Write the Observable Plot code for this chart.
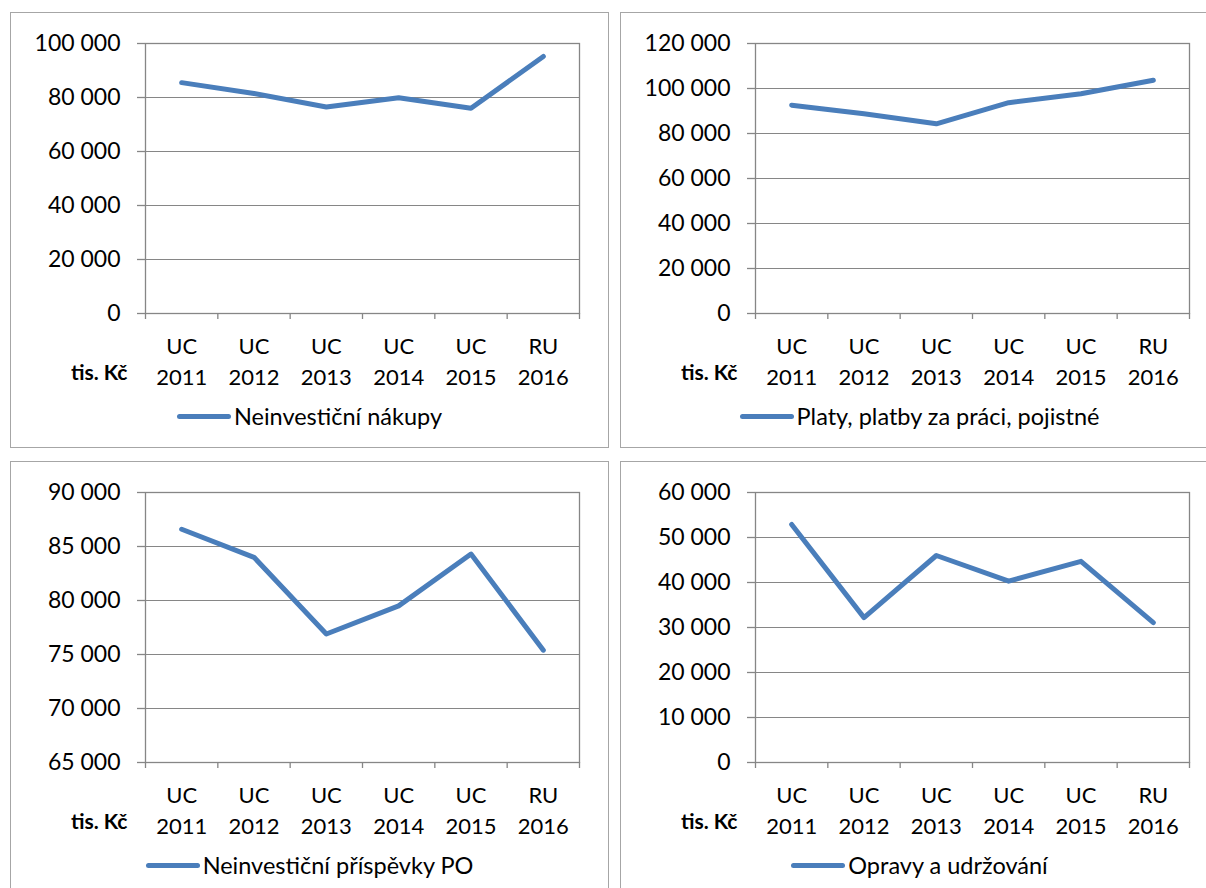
<!DOCTYPE html>
<html><head><meta charset="utf-8">
<script src="https://cdn.jsdelivr.net/npm/d3@7"></script>
<script src="https://cdn.jsdelivr.net/npm/@observablehq/plot@0.6"></script>
<style>
html,body{margin:0;padding:0;background:#fff}
body{width:1206px;height:888px;overflow:hidden;position:relative;font-family:Lato,"Open Sans",sans-serif;color:#000}
.panel{position:absolute;box-sizing:border-box;width:599px;height:436px;border:1px solid #a6a6a6;background:#fff}
.panel svg{display:block}
.legend{display:flex;justify-content:center;align-items:center;height:26px;font-size:23.5px;line-height:26px;color:#000}
.swatch{width:54px;height:5px;border-radius:3px;background:#4a7ebb;margin-right:3px}
</style></head><body>
<script>
// ---- data ----
const catTop = ["UC", "UC", "UC", "UC", "UC", "RU"];
const catYear = ["2011", "2012", "2013", "2014", "2015", "2016"];
const nakupy = [85500, 81500, 76500, 79900, 76000, 95200];
const platy = [92600, 88800, 84300, 93700, 97700, 103700];
const prispevky = [86600, 84000, 76900, 79500, 84300, 75400];
const opravy = [52900, 32200, 46000, 40300, 44700, 31100];
const seriesNames = ["Neinvestiční nákupy", "Platy, platby za práci, pojistné", "Neinvestiční příspěvky PO", "Opravy a udržování"];
const ticks1 = [0, 20000, 40000, 60000, 80000, 100000];
const ticks2 = [0, 20000, 40000, 60000, 80000, 100000, 120000];
const ticks3 = [65000, 70000, 75000, 80000, 85000, 90000];
const ticks4 = [0, 10000, 20000, 30000, 40000, 50000, 60000];
const unitLabel = "tis. Kč";

const fmt = d3.formatLocale({decimal: ",", thousands: "\u00a0", grouping: [3], currency: ["", " Kč"]}).format(",");
const lineColor = "#4a7ebb";
const gridColor = "#868686";

const panels = [
  {values: nakupy, name: seriesNames[0], ticks: ticks1, left: 10, top: 12},
  {values: platy, name: seriesNames[1], ticks: ticks2, left: 620, top: 12},
  {values: prispevky, name: seriesNames[2], ticks: ticks3, left: 10, top: 461},
  {values: opravy, name: seriesNames[3], ticks: ticks4, left: 620, top: 461}
];

for (const p of panels) {
  const rows = p.values.map((v, i) => ({i, v, top: catTop[i], year: catYear[i]}));
  const xPos = d => d.i + 0.5;
  const yDom = [p.ticks[0], p.ticks[p.ticks.length - 1]];
  const chart = Plot.plot({
    width: 597,
    height: 390,
    marginTop: 30,
    marginLeft: 134,
    marginRight: 29,
    marginBottom: 90,
    style: {fontFamily: "Lato, 'Open Sans', sans-serif", fontSize: "22px", color: "#000", background: "#fff", overflow: "visible"},
    x: {type: "linear", domain: [0, catTop.length], label: null},
    y: {type: "linear", domain: yDom, label: null},
    marks: [
      Plot.gridY(p.ticks, {stroke: gridColor, strokeOpacity: 1, strokeWidth: 1}),
      Plot.frame({stroke: gridColor, strokeWidth: 1.3}),
      Plot.axisY(p.ticks, {tickSize: 8, tickFormat: () => "", stroke: gridColor, strokeWidth: 1.3, label: null}),
      Plot.axisY(p.ticks, {tickSize: 0, tickPadding: 25, tickFormat: fmt, fill: "#000", fontSize: 23, label: null}),
      Plot.axisX(d3.range(catTop.length + 1), {tickSize: 6, tickFormat: () => "", stroke: gridColor, strokeWidth: 1.3, label: null}),
      Plot.text(rows, {x: xPos, text: "top", frameAnchor: "bottom", lineAnchor: "bottom", dy: 40, fill: "#000"}),
      Plot.text(rows, {x: xPos, text: "year", frameAnchor: "bottom", lineAnchor: "bottom", dy: 71, fill: "#000"}),
      Plot.text([unitLabel], {text: d => d, frameAnchor: "bottom-left", textAnchor: "end", lineAnchor: "bottom", dx: -18, dy: 66, fontWeight: "bold", fontSize: 21, fill: "#000"}),
      Plot.line(rows, {x: xPos, y: "v", stroke: lineColor, strokeWidth: 5, strokeLinecap: "round", strokeLinejoin: "round"})
    ]
  });
  const div = document.createElement("div");
  div.className = "panel";
  div.style.left = p.left + "px";
  div.style.top = p.top + "px";
  if (p.top > 400) div.style.height = "460px";
  div.appendChild(chart);
  const leg = document.createElement("div");
  leg.className = "legend";
  const sw = document.createElement("span");
  sw.className = "swatch";
  const tx = document.createElement("span");
  tx.textContent = p.name;
  leg.appendChild(sw);
  leg.appendChild(tx);
  div.appendChild(leg);
  document.body.appendChild(div);
}
</script>
</body></html>
